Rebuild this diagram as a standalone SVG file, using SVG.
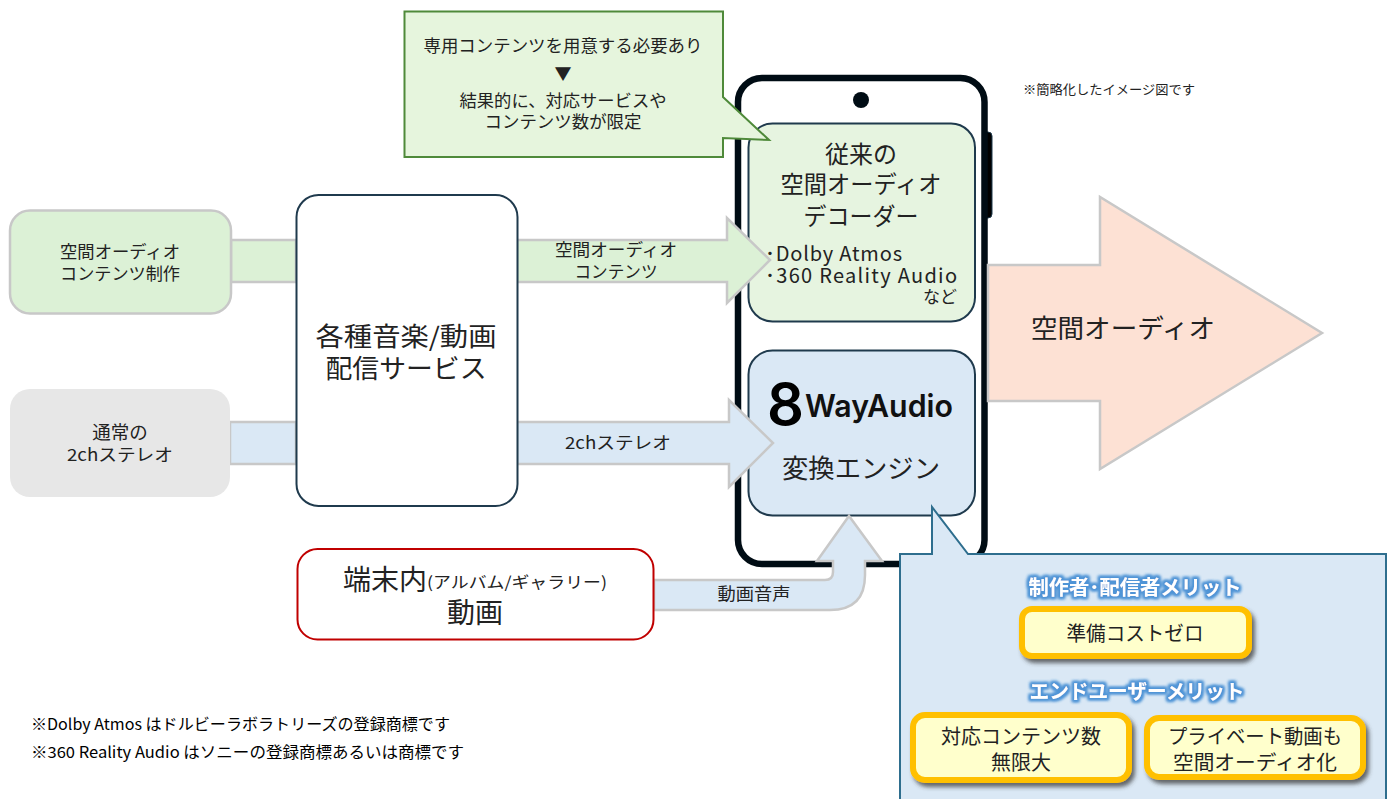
<svg xmlns="http://www.w3.org/2000/svg" width="1390" height="799" viewBox="0 0 1390 799">
<defs>
<filter id="shadow" x="-10%" y="-20%" width="125%" height="150%"><feDropShadow dx="3" dy="4" stdDeviation="2" flood-color="#3a3a3a" flood-opacity="0.75"/></filter>
<filter id="glow" x="-10%" y="-40%" width="120%" height="180%"><feMorphology in="SourceAlpha" operator="dilate" radius="2" result="d"/><feGaussianBlur in="d" stdDeviation="1.8" result="b"/><feFlood flood-color="#4f94d6"/><feComposite in2="b" operator="in" result="g"/><feMerge><feMergeNode in="g"/><feMergeNode in="g"/><feMergeNode in="SourceGraphic"/></feMerge></filter>
</defs>
<style>
text{font-family:"Noto Sans CJK JP","Noto Sans",sans-serif;fill:#222;text-anchor:middle;dominant-baseline:central}
.arrow{stroke:#c8c8c8;stroke-width:2.500;stroke-linejoin:miter}
.blue{fill:#dae8f5}.green{fill:#dcf1d6}.peach{fill:#fde1d4}
.panel{stroke:#1f3a4d;stroke-width:2}
.yellow{fill:#ffffcc;stroke:#ffc000;stroke-width:6;filter:url(#shadow)}
.head{font-weight:700;fill:#fff;filter:url(#glow)}
</style>
<rect width="1390" height="799" fill="#fff"/>
<g id="phone">
<rect x="982" y="132" width="10" height="86" rx="4" fill="#000" stroke="#1f3a4d"/>
<rect x="738" y="78" width="246.500" height="486" rx="24" fill="#fff" stroke="#000c14" stroke-width="6.500"/>
<circle cx="861" cy="100" r="8" fill="#000c14"/>
</g>
<g id="decoder"><rect x="748.500" y="123.500" width="226.500" height="198" rx="24" fill="#e6f4e0" class="panel"/>
<text x="861" y="152" font-size="24">従来の</text><text x="861" y="182" font-size="24" textLength="161" lengthAdjust="spacingAndGlyphs">空間オーディオ</text><text x="861" y="214" font-size="24" textLength="115" lengthAdjust="spacingAndGlyphs">デコーダー</text>
<text x="765" y="252" font-size="20" textLength="137" lengthAdjust="spacing" style="text-anchor:start">･Dolby Atmos</text>
<text x="765" y="274" font-size="20" textLength="192" lengthAdjust="spacing" style="text-anchor:start">･360 Reality Audio</text>
<text x="957" y="295" font-size="17" style="text-anchor:end">など</text></g>
<g id="engine"><rect x="748.500" y="350.500" width="226.500" height="165" rx="24" fill="#dae8f5" class="panel"/>
<text x="785.500" y="404" font-size="58" font-weight="600" style="font-family:Inter,sans-serif;fill:#000" textLength="37" lengthAdjust="spacingAndGlyphs">8</text>
<text x="879" y="405" font-size="31" font-weight="600" style="font-family:Inter,sans-serif;fill:#111" textLength="148" lengthAdjust="spacingAndGlyphs">WayAudio</text>
<text x="861" y="466" font-size="26" textLength="158" lengthAdjust="spacingAndGlyphs">変換エンジン</text></g>
<g id="connectors">
<path class="arrow green" d="M231,240H296V282H231Z"/>
<path class="arrow green" d="M517,240H727V218L770,260L727,303V282H517Z"/>
<path class="arrow blue" d="M230,422H296V464H230Z"/>
<path class="arrow blue" d="M517,422H729V400L773,443L729,487V464H517Z"/>
<path class="arrow peach" d="M988,265H1100V197L1322,333L1100,469V401H988Z"/>
</g>
<g id="source-spatial"><rect x="10" y="210.500" width="221" height="103" rx="20" fill="#dcf1d6" stroke="#c8c8c8" stroke-width="2.500"/><text x="120" y="250" font-size="17" textLength="120" lengthAdjust="spacingAndGlyphs">空間オーディオ</text><text x="120" y="272" font-size="17" textLength="120" lengthAdjust="spacingAndGlyphs">コンテンツ制作</text></g>
<g id="source-stereo"><rect x="10" y="389" width="220" height="108" rx="20" fill="#e7e7e7"/><text x="120" y="431" font-size="18.500">通常の</text><text x="120" y="453" font-size="17" textLength="106" lengthAdjust="spacingAndGlyphs">2chステレオ</text></g>
<g id="service"><rect x="296.500" y="195" width="221" height="311" rx="22" fill="#fff" stroke="#1f3a4d" stroke-width="2"/><text x="406" y="334" font-size="26" textLength="181" lengthAdjust="spacingAndGlyphs">各種音楽/動画</text><text x="406" y="366" font-size="26" textLength="161" lengthAdjust="spacingAndGlyphs">配信サービス</text></g>
<g id="labels"><text x="616" y="248" font-size="17" textLength="122" lengthAdjust="spacingAndGlyphs">空間オーディオ</text><text x="616" y="270" font-size="17" textLength="83" lengthAdjust="spacingAndGlyphs">コンテンツ</text><text x="618" y="441" font-size="17" textLength="106" lengthAdjust="spacingAndGlyphs">2chステレオ</text></g>
<g id="bent-arrow"><path class="arrow blue" d="M654,580H825Q833,580 833,572V561H817L849,516L882,561H865V575Q865,610 830,610H654Z"/><text x="754" y="592" font-size="17" textLength="73" lengthAdjust="spacingAndGlyphs">動画音声</text></g>
<g id="local-video"><rect x="297.500" y="549" width="356" height="90.500" rx="20" fill="#fff" stroke="#c00000" stroke-width="2"/>
<text x="385" y="578" font-size="28" textLength="84" lengthAdjust="spacingAndGlyphs">端末内</text><text x="517" y="581" font-size="16" textLength="180" lengthAdjust="spacingAndGlyphs">(アルバム/ギャラリー)</text><text x="475" y="611" font-size="28">動画</text></g>
<g id="spatial-output"><text x="1123" y="326" font-size="26" textLength="184" lengthAdjust="spacingAndGlyphs">空間オーディオ</text></g>
<g id="callout"><path d="M404.500,11.500H723V97L769,140L723,138V157H404.500Z" fill="#e6f5dd" stroke="#4f8a3a" stroke-width="2"/>
<text x="563" y="44" font-size="17" textLength="279" lengthAdjust="spacingAndGlyphs">専用コンテンツを用意する必要あり</text><text x="563" y="72" font-size="17">▼</text><text x="563" y="99" font-size="17" textLength="207" lengthAdjust="spacingAndGlyphs">結果的に、対応サービスや</text><text x="563" y="120" font-size="17" textLength="157" lengthAdjust="spacingAndGlyphs">コンテンツ数が限定</text></g>
<g id="note"><text x="1109" y="88" font-size="13" textLength="172" lengthAdjust="spacingAndGlyphs">※簡略化したイメージ図です</text></g>
<g id="merit-panel"><path d="M900,800V554H932V507L968,554H1386V800" fill="#dae8f5" stroke="#2e6e8e" stroke-width="2"/>
<text class="head" x="1135" y="586" font-size="20" textLength="213" lengthAdjust="spacingAndGlyphs">制作者･配信者メリット</text>
<rect class="yellow" x="1022" y="609" width="227" height="47" rx="10"/><text x="1135" y="632" font-size="20" textLength="137" lengthAdjust="spacingAndGlyphs">準備コストゼロ</text>
<text class="head" x="1137" y="690" font-size="20" textLength="215" lengthAdjust="spacingAndGlyphs">エンドユーザーメリット</text>
<rect class="yellow" x="913" y="715" width="216" height="65" rx="12"/><text x="1021" y="735" font-size="20" textLength="160" lengthAdjust="spacingAndGlyphs">対応コンテンツ数</text><text x="1021" y="761" font-size="20">無限大</text>
<rect class="yellow" x="1147" y="718" width="216" height="59" rx="12"/><text x="1255" y="735" font-size="20" textLength="174" lengthAdjust="spacingAndGlyphs">プライベート動画も</text><text x="1255" y="761" font-size="20" textLength="164" lengthAdjust="spacingAndGlyphs">空間オーディオ化</text></g>
<g id="footnotes"><text x="31" y="723" font-size="15.500" style="text-anchor:start;fill:#000" textLength="419" lengthAdjust="spacingAndGlyphs">※Dolby Atmos はドルビーラボラトリーズの登録商標です</text><text x="31" y="751" font-size="15.500" style="text-anchor:start;fill:#000" textLength="433" lengthAdjust="spacingAndGlyphs">※360 Reality Audio はソニーの登録商標あるいは商標です</text></g>
</svg>
